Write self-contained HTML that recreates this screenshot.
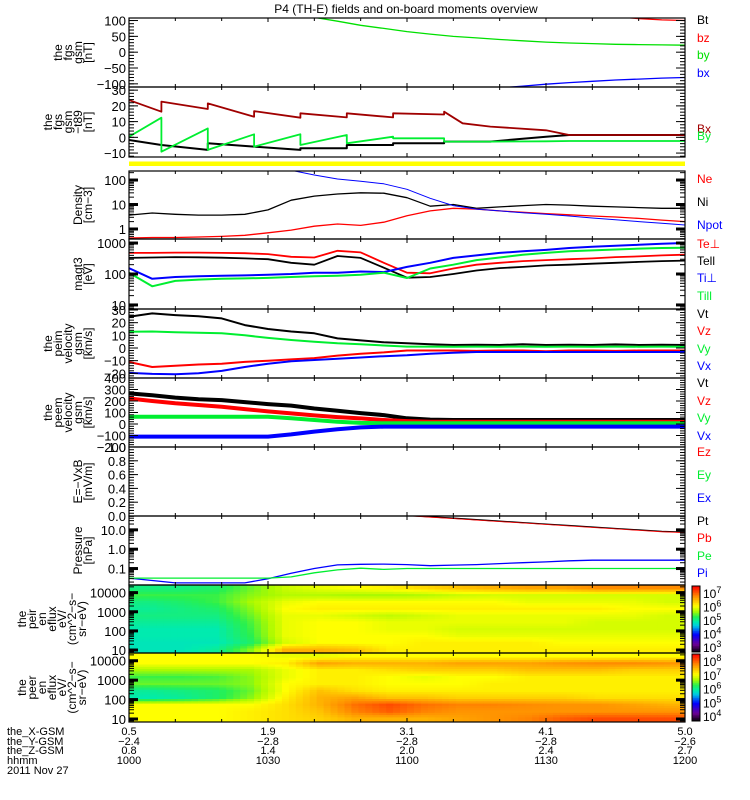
<!DOCTYPE html>
<html><head><meta charset="utf-8">
<style>
html,body{margin:0;padding:0;background:#fff;}
svg{display:block;font-family:"Liberation Sans",sans-serif;}
</style></head>
<body>
<svg id="chart" width="750" height="800" viewBox="0 0 750 800" xmlns="http://www.w3.org/2000/svg">
<text x="406" y="13" font-size="12" text-anchor="middle">P4 (TH-E) fields and on-board moments overview</text>
</svg>
<script>
// ---------- data (time in minutes after 10:00) ----------
const tm = [0,5,10,15,20,25,30,35,40,45,50,55,60,65,70,75,80,85,90,95,100,105,110,115,120];
// panel 1: FGS GSM (nT)
const fgsBt = [400,390,380,370,360,350,340,330,320,310,300,290,280,270,260,250,240,230,220,210,200,190,180,170,160];
const fgsBz = [600,560,520,480,440,410,380,350,320,300,280,260,240,220,200,185,170,155,142,130,120,112,106,102,100];
const fgsBy = [250,235,220,200,180,160,145,125,110,98,85,75,65,57,50,45,40,36,32,29,27,25,24,23,22];
const fgsBx = [-330,-310,-290,-270,-250,-235,-220,-205,-190,-178,-166,-155,-145,-136,-128,-120,-113,-107,-101,-96,-92,-88,-85,-82,-80];
// panel 2: FGS minus T89 (nT), sawtooth
const tB2 = [0,7,7,17,17,27,27,37,37,47,47,57,57,68,68,72,78,90,95,105,120];
const dbRed = [23.7,16.3,22.7,18,21.6,13.1,16.7,12.5,15.3,12.7,15.3,12.7,15.3,14.5,16.3,8.9,6.8,4.5,1.5,1.5,1.5];
const dbGreen = [0.4,12.5,-9.1,5.7,-8,1.9,-5.9,1.9,-4.9,1.5,-3.8,0.4,-0.6,-0.6,-2.7,-2.7,-2.7,-2.5,-2.3,-2.3,-2.3];
const dbBlack = [-1.7,-4.9,-4.9,-8,-3.8,-5.9,-5.9,-8,-7,-7,-4.9,-4.9,-3.8,-3.8,-2.7,-2.7,-2.7,0.4,1.5,1.5,1.5];
// panel 3: density
const nNi = [3.7,4.5,4,3.7,3.7,4,6,15,22,27,30,29,19,8.5,10,7,8,9,10,9.5,8.5,8,7.5,7,7];
const nNe = [0.43,0.45,0.45,0.47,0.5,0.55,0.7,0.9,1.3,1.6,1.4,1.9,3.5,5.5,7,6.5,5.5,4.8,4.2,3.8,3.4,3.1,2.7,2.3,2];
const nNpot = [900,800,700,600,500,420,350,250,160,110,90,70,42,18,9,6.5,5.5,4.6,4,3.4,2.8,2.4,2,1.7,1.45];
// panel 4: temperatures (eV)
const tTeperp = [480,480,490,490,480,470,440,360,340,560,500,230,110,105,150,200,230,260,280,300,320,350,370,400,420];
const tTepar = [330,340,350,345,335,320,300,230,200,380,330,160,76,80,100,130,155,170,190,200,215,230,245,260,270];
const tTiperp = [155,70,80,85,88,90,95,100,110,110,120,115,170,230,330,400,480,540,600,690,760,820,880,950,1000];
const tTipar = [110,40,60,66,70,72,75,80,85,88,95,110,74,150,200,280,340,420,480,540,580,620,660,690,700];
// panel 5: peim velocity (km/s)
const viT = [24.7,27.3,26,25,23.4,18.1,15,13,11.6,7.6,6,4.5,3.7,3,2.4,2.6,2.4,3,2.4,2.6,2.4,2.8,2.4,2.6,2.4];
const viZ = [-11.1,-15,-14,-13,-12.4,-11,-10,-9,-8,-6,-4.5,-3.5,-2,-2,-2,-2.3,-2,-2,-2.5,-2,-2,-2.3,-2,-2,-2];
const viY = [12.9,13,12.5,12,11.6,10,8,6.3,5,3.7,3,2,1.1,1.1,1,1.1,1,1.1,1,1.1,1,1.1,1,1.1,1];
const viX = [-19.7,-20.5,-20.8,-20,-18.1,-15,-12.4,-10.5,-9.5,-8.5,-7.5,-6.5,-5.8,-4.5,-3.8,-3.2,-3.2,-3.2,-3.2,-3.2,-3.2,-3.2,-3.2,-3.2,-3.2];
// panel 6: peem velocity (km/s)
const veT = [266,250,230,215,208,190,173,160,135,115,95,77,50,38,35,35,35,35,35,35,35,35,35,35,35];
const veZ = [222,200,180,165,150,130,110,92,75,60,49,35,25,20,20,20,20,20,20,20,20,20,20,20,20];
const veY = [63,63,63,63,63,63,63,50,35,20,10,6,6,6,6,6,6,6,6,6,6,6,6,6,6];
const veX = [-110,-110,-110,-110,-110,-110,-110,-90,-66,-45,-30,-23,-23,-23,-23,-23,-23,-23,-23,-23,-23,-23,-23,-23,-23];
// panel 8: pressure (nPa)
const pPt = [900,780,680,580,480,400,330,270,210,160,115,75,56.5,47.5,40,33.5,28,23.7,19.9,16.7,14,11.8,9.9,8.3,7.6];
const pPb = [860,740,640,550,455,380,315,255,200,152,110,72,54,45,38,32,26.6,22.5,19,15.9,13.3,11.2,9.4,7.9,7.2];
const pPi = [0.032,0.024,0.018,0.018,0.018,0.018,0.03,0.057,0.1,0.155,0.165,0.17,0.16,0.14,0.15,0.16,0.18,0.2,0.22,0.25,0.27,0.27,0.27,0.27,0.27];
const pPe = [0.032,0.032,0.032,0.032,0.032,0.032,0.032,0.037,0.06,0.085,0.104,0.09,0.1,0.1,0.1,0.1,0.1,0.1,0.1,0.1,0.1,0.1,0.1,0.1,0.1];
// panels 9-10: spectrogram normalised log-flux (rows = high energy -> low energy, 16 time columns)
const ionSpec = [
[0.5,0.5,0.52,0.58,0.65,0.68,0.7,0.72,0.75,0.78,0.8,0.82,0.82,0.85,0.85,0.85],
[0.55,0.55,0.55,0.6,0.63,0.63,0.62,0.62,0.63,0.65,0.66,0.66,0.66,0.66,0.66,0.66],
[0.5,0.52,0.55,0.62,0.68,0.7,0.7,0.7,0.7,0.7,0.7,0.68,0.68,0.68,0.68,0.66],
[0.48,0.5,0.52,0.6,0.7,0.72,0.72,0.72,0.72,0.72,0.72,0.72,0.72,0.72,0.7,0.7],
[0.5,0.5,0.5,0.58,0.68,0.68,0.66,0.64,0.66,0.68,0.68,0.68,0.68,0.68,0.68,0.66],
[0.48,0.48,0.48,0.56,0.68,0.7,0.7,0.68,0.68,0.68,0.68,0.68,0.68,0.66,0.66,0.66],
[0.46,0.46,0.46,0.55,0.68,0.7,0.7,0.68,0.68,0.66,0.66,0.66,0.66,0.66,0.66,0.66],
[0.46,0.46,0.46,0.54,0.68,0.7,0.7,0.7,0.7,0.68,0.68,0.68,0.68,0.68,0.68,0.68],
[0.45,0.45,0.45,0.52,0.66,0.7,0.7,0.7,0.72,0.72,0.72,0.72,0.7,0.7,0.7,0.7],
[0.45,0.45,0.48,0.6,0.8,0.8,0.78,0.72,0.72,0.72,0.72,0.72,0.72,0.72,0.72,0.72]];
const eleSpec = [
[0.7,0.7,0.7,0.7,0.68,0.68,0.7,0.7,0.7,0.7,0.7,0.7,0.7,0.7,0.7,0.7],
[0.7,0.7,0.7,0.7,0.72,0.82,0.8,0.8,0.8,0.82,0.82,0.82,0.84,0.85,0.85,0.84],
[0.62,0.62,0.62,0.62,0.68,0.72,0.72,0.74,0.76,0.76,0.76,0.78,0.78,0.78,0.76,0.76],
[0.55,0.55,0.56,0.6,0.68,0.72,0.72,0.7,0.68,0.7,0.7,0.72,0.72,0.72,0.72,0.72],
[0.58,0.58,0.58,0.6,0.7,0.72,0.72,0.7,0.7,0.7,0.72,0.72,0.72,0.72,0.72,0.72],
[0.48,0.5,0.52,0.58,0.7,0.78,0.74,0.72,0.72,0.72,0.72,0.72,0.72,0.72,0.72,0.72],
[0.46,0.48,0.52,0.6,0.72,0.8,0.82,0.78,0.78,0.76,0.76,0.76,0.76,0.74,0.74,0.74],
[0.7,0.7,0.7,0.7,0.74,0.8,0.88,0.92,0.88,0.86,0.86,0.85,0.84,0.84,0.82,0.8],
[0.7,0.7,0.7,0.72,0.74,0.78,0.86,0.9,0.86,0.84,0.84,0.84,0.84,0.84,0.84,0.84],
[0.7,0.7,0.7,0.72,0.74,0.76,0.8,0.8,0.8,0.82,0.84,0.86,0.9,0.92,0.92,0.92]];
const xTickMin = [0,30,60,90,120];
const xLabX = ["0.5","1.9","3.1","4.1","5.0"];
const xLabY = ["-2.4","-2.8","-2.8","-2.8","-2.6"];
const xLabZ = ["0.8","1.4","2.0","2.4","2.7"];
const xLabT = ["1000","1030","1100","1130","1200"];

// ---------- drawing ----------
const NS = "http://www.w3.org/2000/svg";
const svg = document.getElementById('chart');
const X0 = 129, X1 = 685;
const xs = t => X0 + t / 120 * (X1 - X0);
function mk(tag, attrs, parent) {
  const e = document.createElementNS(NS, tag);
  for (const k in attrs) e.setAttribute(k, attrs[k]);
  (parent || svg).appendChild(e);
  return e;
}
function yScale(p) {
  if (p.log) { const a = Math.log10(p.min), b = Math.log10(p.max);
    return v => p.y1 - (Math.log10(v) - a) / (b - a) * (p.y1 - p.y0); }
  return v => p.y1 - (v - p.min) / (p.max - p.min) * (p.y1 - p.y0);
}
const panels = [
 {id:'fgs-gsm', y0:18, y1:87, min:-110, max:108, ticks:[-100,-50,0,50,100], labels:['the','fgs','gsm','[nT]']},
 {id:'fgs-minus-t89', y0:87, y1:157, min:-12.5, max:32, ticks:[-10,0,10,20,30], labels:['the','fgs','gsm','-t89','[nT]']},
 {id:'density', y0:171, y1:239, min:0.39, max:234, log:true, ticks:[1,10,100], tickLab:['1','10','100'], labels:['Density','[cm-3]']},
 {id:'temperature', y0:239, y1:309, min:7.4, max:1350, log:true, ticks:[10,100,1000], tickLab:['10','100','1000'], labels:['magt3','[eV]']},
 {id:'ion-velocity', y0:309, y1:378, min:-23.7, max:30.8, ticks:[-20,-10,0,10,20,30], labels:['the','peim','velocity','gsm','[km/s]']},
 {id:'electron-velocity', y0:378, y1:447, min:-200, max:400, ticks:[-200,-100,0,100,200,300,400], labels:['the','peem','velocity','gsm','[km/s]']},
 {id:'efield', y0:447, y1:516, min:0, max:1, ticks:[0,0.2,0.4,0.6,0.8,1], tickLab:['0.0','0.2','0.4','0.6','0.8','1.0'], labels:['E=-VxB','[mV/m]']},
 {id:'pressure', y0:516, y1:585, min:0.0141, max:52, log:true, ticks:[0.1,1,10], tickLab:['0.1','1.0','10.0'], labels:['Pressure','[nPa]']},
 {id:'ion-spectrogram', y0:585, y1:653, min:7, max:25000, log:true, ticks:[10,100,1000,10000], tickLab:['10','100','1000','10000'], labels:['the','peir','en','eflux','eV/','(cm^2-s-','sr-eV)']},
 {id:'electron-spectrogram', y0:653, y1:722, min:7, max:25000, log:true, ticks:[10,100,1000,10000], tickLab:['10','100','1000','10000'], labels:['the','peer','en','eflux','eV/','(cm^2-s-','sr-eV)']}
];
// colormap
const cstops = [[0,0,0,0],[0.12,110,0,150],[0.27,0,0,255],[0.4,0,200,230],[0.46,0,235,175],[0.54,40,240,80],[0.62,170,250,0],[0.7,255,255,0],[0.85,255,140,0],[1,255,0,0]];
function cmap(v){ v=Math.max(0,Math.min(1,v));
  for(let i=1;i<cstops.length;i++){ if(v<=cstops[i][0]){ const a=cstops[i-1],b=cstops[i],f=(v-a[0])/(b[0]-a[0]);
    return `rgb(${Math.round(a[1]+f*(b[1]-a[1]))},${Math.round(a[2]+f*(b[2]-a[2]))},${Math.round(a[3]+f*(b[3]-a[3]))})`; } }
  return 'rgb(255,0,0)'; }

const defs = mk('defs', {});
panels.forEach((p, i) => {
  const cp = mk('clipPath', {id: 'clip' + i}, defs);
  mk('rect', {x: X0, y: p.y0, width: X1 - X0, height: p.y1 - p.y0}, cp);
  p.ys = yScale(p);
});
function series(pi, ts, vals, color, name, w) {
  const p = panels[pi];
  const pts = ts.map((t, k) => xs(t).toFixed(1) + ',' + p.ys(vals[k]).toFixed(1)).join(' ');
  const pl = mk('polyline', {points: pts, fill: 'none', stroke: color, 'stroke-width': w || 1.3, 'clip-path': `url(#clip${pi})`, 'stroke-linejoin': 'round'});
  
  
}
function sample(grid, r, c) {
  const nr = grid.length, nc = grid[0].length;
  r = Math.max(0, Math.min(nr - 1, r)); c = Math.max(0, Math.min(nc - 1, c));
  const r0 = Math.floor(r), c0 = Math.floor(c), r1 = Math.min(nr - 1, r0 + 1), c1 = Math.min(nc - 1, c0 + 1);
  const fr = r - r0, fc = c - c0;
  return (grid[r0][c0] * (1 - fc) + grid[r0][c1] * fc) * (1 - fr) + (grid[r1][c0] * (1 - fc) + grid[r1][c1] * fc) * fr;
}
function spectro(pi, grid, name) {
  const p = panels[pi];
  const g = mk('g', {'clip-path': `url(#clip${pi})`});
  
  
  const nr = grid.length, nc = grid[0].length;
  const SR = 3, SC = 5;
  const NR = nr * SR, NC = nc * SC;
  const ch = (p.y1 - p.y0) / NR;
  for (let r = 0; r < NR; r++) for (let c = 0; c < NC; c++) {
    const v = sample(grid, (r + 0.5) / SR - 0.5, (c + 0.5) / SC - 0.5);
    const xa = xs(c * 120 / NC), xb = xs((c + 1) * 120 / NC);
    const cell = mk('rect', {x: xa.toFixed(1), y: (p.y0 + r * ch).toFixed(1), width: (xb - xa + 0.6).toFixed(1), height: (ch + 0.6).toFixed(1), fill: cmap(v)}, g);
    
    
  }
}
spectro(8, ionSpec, 'ion-energy-spectrogram');
spectro(9, eleSpec, 'electron-energy-spectrogram');

series(0, tm, fgsBt, '#000', 'bt-line'); series(0, tm, fgsBz, '#ff0000', 'bz-line');
series(0, tm, fgsBy, '#00e000', 'by-line'); series(0, tm, fgsBx, '#0000ff', 'bx-line');
series(1, tB2, dbBlack, '#000', 'dbz-line', 2); series(1, tB2, dbRed, '#a00000', 'dbx-line', 1.8); series(1, tB2, dbGreen, '#00ee30', 'dby-line', 1.8);
series(2, tm, nNi, '#000', 'ni-line'); series(2, tm, nNe, '#ff0000', 'ne-line'); series(2, tm, nNpot, '#0000ff', 'npot-line', 1);
series(3, tm, tTeperp, '#ff0000', 'te-perp-line', 1.8); series(3, tm, tTepar, '#000', 'te-par-line', 1.8);
series(3, tm, tTiperp, '#0000ff', 'ti-perp-line', 2); series(3, tm, tTipar, '#00ee30', 'ti-par-line', 2);
series(4, tm, viT, '#000', 'vit-line', 2); series(4, tm, viY, '#00ee30', 'viy-line', 2);
series(4, tm, viZ, '#ff0000', 'viz-line', 2); series(4, tm, viX, '#0000ff', 'vix-line', 2);
series(5, tm, veT, '#000', 'vet-line', 4); series(5, tm, veZ, '#ff0000', 'vez-line', 4);
series(5, tm, veY, '#00ee30', 'vey-line', 4); series(5, tm, veX, '#0000ff', 'vex-line', 4);
series(7, tm, pPt, '#000', 'pt-line', 1.3); series(7, tm, pPb, '#ff0000', 'pb-line', 0.8);
series(7, tm, pPi, '#0000ff', 'pi-line', 1.3); series(7, tm, pPe, '#00ee30', 'pe-line', 1.3);

// yellow flag bar
const yb = mk('rect', {x: X0, y: 161.5, width: X1 - X0, height: 4.5, fill: '#ffff00'});



// axes
panels.forEach((p, i) => {
  const g = mk('g', {});
  
  
  mk('rect', {x: X0, y: p.y0, width: X1 - X0, height: p.y1 - p.y0, fill: 'none', stroke: '#000', 'stroke-width': 1.2}, g);
  for (let t = 10; t < 120; t += 10) {
    const len = (t % 30 === 0) ? 4 : 3;
    mk('line', {x1: xs(t), x2: xs(t), y1: p.y0, y2: p.y0 + len, stroke: '#000'}, g);
    mk('line', {x1: xs(t), x2: xs(t), y1: p.y1, y2: p.y1 - len, stroke: '#000'}, g);
  }
  const minors = [];
  if (p.log) {
    for (let e = Math.floor(Math.log10(p.min)); e <= Math.ceil(Math.log10(p.max)); e++)
      for (let m = 1; m < 10; m++) { const v = m * Math.pow(10, e); if (v >= p.min && v <= p.max) minors.push([v, m === 1]); }
  } else {
    const step = (p.ticks[1] - p.ticks[0]) / 5;
    for (let v = p.ticks[0] - 5 * step; v <= p.max + 1e-9; v += step) if (v >= p.min - 1e-9) minors.push([v, false]);
    p.ticks.forEach(v => minors.push([v, true]));
  }
  minors.forEach(([v, maj]) => {
    const y = p.ys(v), L = maj ? 9 : 5, w = p.log && maj ? 3 : 1;
    mk('line', {x1: X0, x2: X0 + L, y1: y, y2: y, stroke: '#000', 'stroke-width': w}, g);
    mk('line', {x1: X1, x2: X1 - L, y1: y, y2: y, stroke: '#000', 'stroke-width': w}, g);
  });
  p.ticks.forEach((v, k) => {
    const lab = p.tickLab ? p.tickLab[k] : String(v).replace('-', '\u2212');
    const tx = mk('text', {x: X0 - 3, y: p.ys(v) + 5, 'font-size': 13, 'text-anchor': 'end'}, g);
    tx.textContent = lab;
    
    
  });
  // y title (rotated, lines stacked; last line baseline near x=92)
  const n = p.labels.length, cy = (p.y0 + p.y1) / 2;
  const lh = 10;
  const lastX = (p.id.indexOf('spectrogram') >= 0) ? 86 : 92;
  p.labels.forEach((s, k) => {
    const xx = lastX - (n - 1 - k) * lh;
    const tx = mk('text', {x: xx, y: cy, 'font-size': 12, 'text-anchor': 'middle', transform: `rotate(-90 ${xx} ${cy})`}, g);
    tx.textContent = s.replace(/-/g, '\u2212');
    
    
  });
});

// legends
const legends = [
 [['Bt','#000',24],['bz','#ff0000',42],['by','#00e000',59],['bx','#0000ff',77]],
 [['Bx','#a00000',133],['By','#00ee30',140]],
 [['Ne','#ff0000',183],['Ni','#000',206],['Npot','#0000ff',229]],
 [['Te\u22a5','#ff0000',248],['Tell','#000',265],['Ti\u22a5','#0000ff',282],['Till','#00ee30',300]],
 [['Vt','#000',318],['Vz','#ff0000',335],['Vy','#00ee30',353],['Vx','#0000ff',370]],
 [['Vt','#000',387],['Vz','#ff0000',405],['Vy','#00ee30',422],['Vx','#0000ff',440]],
 [['Ez','#ff0000',456],['Ey','#00ee30',479],['Ex','#0000ff',502]],
 [['Pt','#000',525],['Pb','#ff0000',542],['Pe','#00ee30',560],['Pi','#0000ff',577]]
];
legends.forEach(L => L.forEach(([s, c, y]) => {
  const t = mk('text', {x: 697, y: y, 'font-size': 12, fill: c});
  t.textContent = s;
  
  
}));

// colorbars
[[8, ['10^3','10^4','10^5','10^6','10^7']], [9, ['10^4','10^5','10^6','10^7','10^8']]].forEach(([pi, labs]) => {
  const p = panels[pi];
  const g = mk('g', {});
  
  
  const n = 40, h = (p.y1 - p.y0 - 2) / n;
  for (let k = 0; k < n; k++) mk('rect', {x: 692, y: (p.y1 - 1 - (k + 1) * h).toFixed(2), width: 8, height: (h + 0.5).toFixed(2), fill: cmap((k + 0.5) / n)}, g);
  mk('rect', {x: 692, y: p.y0 + 1, width: 8, height: p.y1 - p.y0 - 2, fill: 'none', stroke: '#000'}, g);
  labs.forEach((s, k) => {
    const y = p.y1 - 6 - k * ((p.y1 - p.y0 - 14) / 4);
    const t = mk('text', {x: 703, y: y + 5, 'font-size': 12}, g);
    t.textContent = '10';
    const sp = mk('tspan', {dy: -5, 'font-size': 9}, t);
    sp.textContent = s.split('^')[1];
    
    
  });
});

// x-axis annotation
const rows = [['the_X-GSM', xLabX, 735], ['the_Y-GSM', xLabY, 745], ['the_Z-GSM', xLabZ, 754], ['hhmm', xLabT, 764]];
rows.forEach(([name, arr, y]) => {
  const t = mk('text', {x: 7, y: y, 'font-size': 11});
  t.textContent = name;
  
  
  arr.forEach((s, k) => {
    const tt = mk('text', {x: xs(xTickMin[k]), y: y, 'font-size': 11, 'text-anchor': 'middle'});
    tt.textContent = s.replace('-', '\u2212');
    
    
  });
});
const dt = mk('text', {x: 7, y: 774, 'font-size': 11});
dt.textContent = '2011 Nov 27';


</script>
</body></html>
